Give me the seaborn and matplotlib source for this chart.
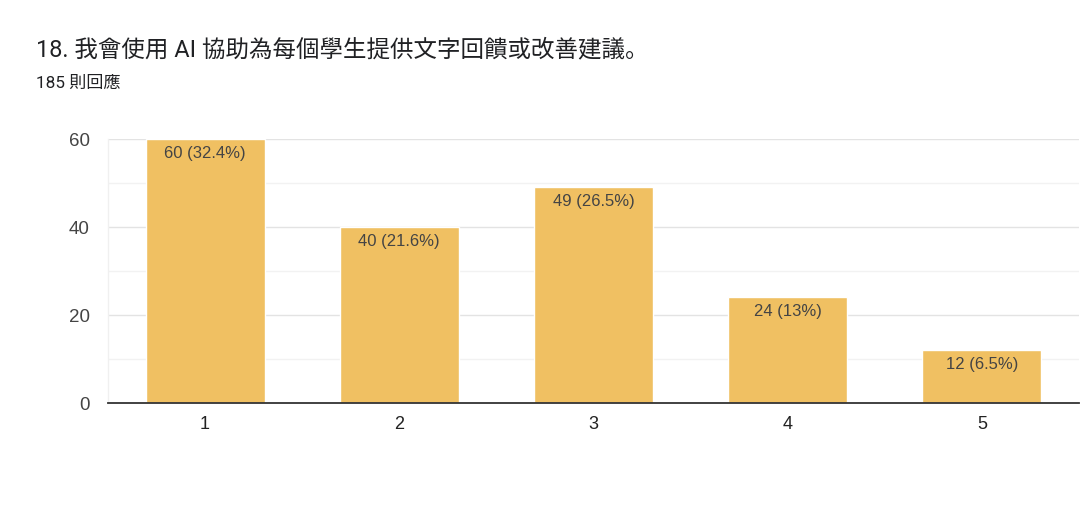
import matplotlib
matplotlib.use("Agg")
import matplotlib.pyplot as plt
import seaborn as sns
import pandas as pd

categories = ["1", "2", "3", "4", "5"]
counts = [60, 40, 49, 24, 12]
percent_labels = ["60 (32.4%)", "40 (21.6%)", "49 (26.5%)", "24 (13%)", "12 (6.5%)"]
title_text = "18. 我會使用 AI 協助為每個學生提供文字回饋或改善建議。"
subtitle_text = "185 則回應"
y_ticks = [0, 20, 40, 60]
y_minor = [10, 30, 50]

sns.set_theme(style="white")
plt.rcParams["font.family"] = ["Roboto", "Noto Sans CJK JP", "DejaVu Sans"]
chart_font = ["Liberation Sans", "DejaVu Sans"]

df = pd.DataFrame({"answer": categories, "count": counts})

fig = plt.figure(figsize=(10.8, 5.13), dpi=100)
ax = fig.add_axes([0.1, 0.2144, 0.899, 0.5146])

sns.barplot(data=df, x="answer", y="count", color="#F0C062", width=0.613,
            saturation=1, ax=ax, zorder=3)

ax.set_xlim(-0.5, 4.5)
ax.set_ylim(0, 60)
ax.set_yticks(y_ticks)
ax.set_yticks(y_minor, minor=True)
ax.grid(axis="y", which="major", color="#e3e3e3", linewidth=1, zorder=0)
ax.grid(axis="y", which="minor", color="#f2f2f2", linewidth=1, zorder=0)
ax.tick_params(axis="y", which="both", length=0, pad=13, labelsize=13.5, labelcolor="#444444")
ax.tick_params(axis="x", length=0, pad=9, labelsize=13, labelcolor="#222222")
for t in ax.get_xticklabels() + ax.get_yticklabels():
    t.set_family(chart_font)
ax.set_xlabel("")
ax.set_ylabel("")

for s in ["top", "right"]:
    ax.spines[s].set_visible(False)
ax.spines["left"].set_color("#f0f0f0")
ax.spines["left"].set_linewidth(1)
ax.spines["bottom"].set_color("#333333")
ax.spines["bottom"].set_linewidth(1.3)
ax.spines["bottom"].set_zorder(4)

for i, (v, lab) in enumerate(zip(counts, percent_labels)):
    ax.annotate(lab, xy=(i, v), xytext=(0, -5), textcoords="offset points",
                ha="center", va="top", fontsize=12, color="#444444", zorder=5,
                family=chart_font)

fig.text(36 / 1080, 1 - 50 / 513, title_text, fontsize=16.9, color="#202124",
         ha="left", va="center")
fig.text(36 / 1080, 1 - 83 / 513, subtitle_text, fontsize=12.3, color="#202124",
         ha="left", va="center")

fig.savefig("out.png", dpi=100)
